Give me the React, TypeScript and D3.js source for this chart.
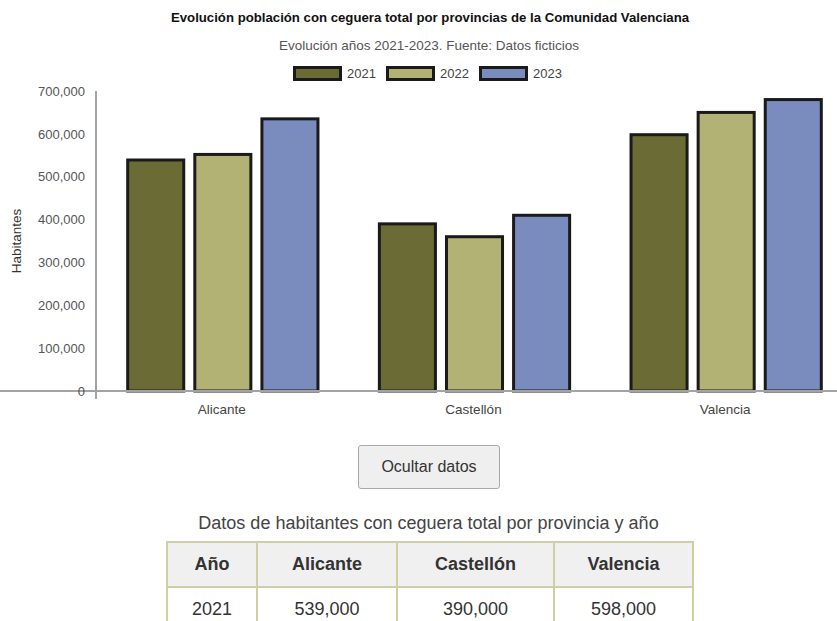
import React, { useEffect, useRef } from "react";
import * as d3 from "d3";

// Provinces and years
const provinces: string[] = ["Alicante", "Castellón", "Valencia"];
const years: string[] = ["2021", "2022", "2023"];

// Inhabitants with total blindness, one array per year (order follows provinces)
const values2021: number[] = [539000, 390000, 598000];
const values2022: number[] = [552000, 360000, 650000];
const values2023: number[] = [635000, 410000, 680000];

const seriesValues: number[][] = [values2021, values2022, values2023];
const yearColors: string[] = ["#6b6c35", "#b2b274", "#7a8cbe"];
const yTicks: number[] = [0, 100000, 200000, 300000, 400000, 500000, 600000, 700000];

// rows of the data table that fit on the page
const tableYears: string[] = ["2021"];

const W = 837;
const H = 430;
const FONT = "'Liberation Sans', Arial, sans-serif";

const x0 = d3
  .scaleBand<string>()
  .domain(provinces)
  .range([96, 851])
  .paddingInner(0.24)
  .paddingOuter(0.12);

const x1 = d3
  .scaleBand<string>()
  .domain(years)
  .range([0, x0.bandwidth()])
  .paddingInner(0.15)
  .paddingOuter(0);

const y = d3.scaleLinear().domain([0, 700000]).range([391, 91]);

const fmt = d3.format(",");

function Chart() {
  const yAxisRef = useRef<SVGGElement>(null);
  const xAxisRef = useRef<SVGGElement>(null);

  useEffect(() => {
    if (yAxisRef.current) {
      const g = d3.select(yAxisRef.current);
      g.call(
        d3
          .axisLeft(y)
          .tickValues(yTicks)
          .tickSize(0)
          .tickPadding(11)
          .tickFormat((d) => fmt(d as number))
      );
      g.select(".domain").attr("d", "M0,91V399").attr("stroke", "#a3a3a3").attr("stroke-width", 2);
      g.selectAll("text")
        .attr("fill", "#555")
        .style("font-family", FONT)
        .style("font-size", "13px");
    }
    if (xAxisRef.current) {
      const g = d3.select(xAxisRef.current);
      g.call(d3.axisBottom(x0).tickSize(0).tickPadding(13));
      g.select(".domain").attr("d", "M-8,0H851").attr("stroke", "#a3a3a3").attr("stroke-width", 2);
      g.selectAll("text")
        .attr("fill", "#444")
        .style("font-family", FONT)
        .style("font-size", "13.5px");
    }
  }, []);

  return (
    <svg width={W} height={H} style={{ display: "block" }}>
      <text
        x={430}
        y={21.5}
        textAnchor="middle"
        fontFamily={FONT}
        fontWeight="bold"
        fontSize={13.2}
        fill="#111"
      >
        Evolución población con ceguera total por provincias de la Comunidad Valenciana
      </text>
      <text x={429} y={50} textAnchor="middle" fontFamily={FONT} fontSize={13.5} fill="#555">
        Evolución años 2021-2023. Fuente: Datos ficticios
      </text>

      {/* legend */}
      {years.map((yr, i) => (
        <g key={yr} transform={`translate(${294.5 + i * 93},67.5)`}>
          <rect width={46} height={12} fill={yearColors[i]} stroke="#1a1a1a" strokeWidth={3} />
          <text x={52.5} y={10.5} fontFamily={FONT} fontSize={13} fill="#444">
            {yr}
          </text>
        </g>
      ))}

      <text
        transform="translate(21,241) rotate(-90)"
        textAnchor="middle"
        fontFamily={FONT}
        fontSize={13.5}
        fill="#333"
      >
        Habitantes
      </text>

      {/* bars */}
      {provinces.map((p, pi) => (
        <g key={p} transform={`translate(${x0(p)},0)`}>
          {years.map((yr, yi) => {
            const v = seriesValues[yi][pi];
            return (
              <rect
                key={yr}
                x={(x1(yr) as number) + 1.5}
                y={y(v)}
                width={x1.bandwidth() - 1}
                height={y(0) - y(v)}
                fill={yearColors[yi]}
                stroke="#1a1a1a"
                strokeWidth={3}
              />
            );
          })}
        </g>
      ))}

      <g ref={xAxisRef} transform="translate(0,391)" />
      <g ref={yAxisRef} transform="translate(96,0)" />
    </svg>
  );
}

function DataTable() {
  const colWidths = [90, 140, 157, 139];
  const cell: React.CSSProperties = {
    border: "2px solid #cfcfa6",
    textAlign: "center",
    height: 43,
    padding: 0,
    fontSize: 18,
    color: "#333",
  };
  return (
    <>
      <div
        style={{
          position: "absolute",
          left: 0,
          top: 512,
          width: W,
          lineHeight: "22px",
          textAlign: "center",
          fontSize: 18,
          color: "#444",
          paddingLeft: 20,
          boxSizing: "border-box",
          fontFamily: FONT,
        }}
      >
        Datos de habitantes con ceguera total por provincia y año
      </div>
      <table
        style={{
          position: "absolute",
          top: 541,
          left: 166,
          borderCollapse: "collapse",
          fontFamily: FONT,
          tableLayout: "fixed",
          width: 527,
        }}
      >
        <colgroup>
          {colWidths.map((w, i) => (
            <col key={i} style={{ width: w }} />
          ))}
        </colgroup>
        <thead>
          <tr>
            <th style={{ ...cell, background: "#f0f0f0", fontWeight: "bold" }}>Año</th>
            {provinces.map((p) => (
              <th key={p} style={{ ...cell, background: "#f0f0f0", fontWeight: "bold" }}>
                {p}
              </th>
            ))}
          </tr>
        </thead>
        <tbody>
          {tableYears.map((yr) => {
            const yi = years.indexOf(yr);
            return (
              <tr key={yr}>
                <td style={cell}>{yr}</td>
                {provinces.map((p, pi) => (
                  <td key={p} style={cell}>
                    {fmt(seriesValues[yi][pi])}
                  </td>
                ))}
              </tr>
            );
          })}
        </tbody>
      </table>
    </>
  );
}

export default function App() {
  return (
    <div
      style={{
        position: "fixed",
        left: 0,
        top: 0,
        width: W,
        height: 621,
        overflow: "hidden",
        background: "#fff",
        fontFamily: FONT,
      }}
    >
      <Chart />
      <button
        style={{
          position: "absolute",
          left: 358,
          top: 445,
          width: 142,
          height: 44,
          background: "#efefef",
          border: "1px solid #a9a9a9",
          borderRadius: 3,
          fontFamily: FONT,
          fontSize: 16,
          color: "#333",
          padding: 0,
        }}
      >
        Ocultar datos
      </button>
      <DataTable />
    </div>
  );
}
